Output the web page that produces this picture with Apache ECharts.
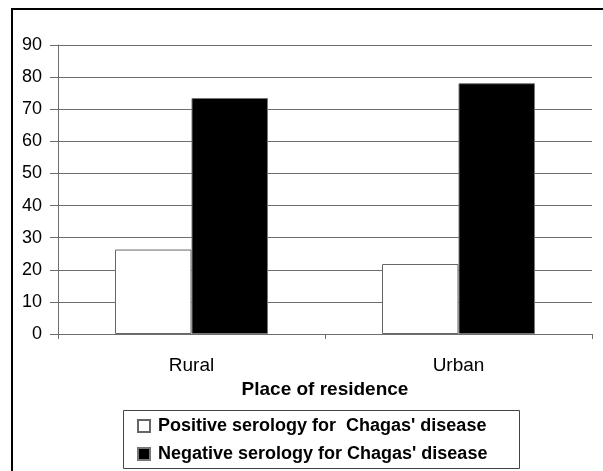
<!DOCTYPE html>
<html>
<head>
<meta charset="utf-8">
<script src="https://cdn.jsdelivr.net/npm/echarts@6/dist/echarts.min.js"></script>
<style>
  html, body { margin: 0; padding: 0; background: #fff; }
  #chart { width: 603px; height: 471px; }
</style>
</head>
<body>
<div id="chart"></div>
<script>
// Serology results by place of residence (percent)
const categories = ['Rural', 'Urban'];
const positiveValues = [26.3, 21.8];
const negativeValues = [73.5, 78.1];
const seriesNames = [
  "Positive serology for  Chagas' disease",
  "Negative serology for Chagas' disease"
];
const yTicks = { min: 0, max: 90, interval: 10 };
const axisTitle = 'Place of residence';

const chart = echarts.init(document.getElementById('chart'), null, { renderer: 'canvas' });

const labelFont = 'Liberation Sans';
const gridColor = '#6e6e6e';

chart.setOption({
  backgroundColor: '#ffffff',
  animation: false,
  grid: { left: 58, right: 11, top: 45, bottom: 137, containLabel: false },
  xAxis: {
    type: 'category',
    data: categories,
    boundaryGap: true,
    name: axisTitle,
    nameLocation: 'middle',
    nameGap: 44,
    nameTextStyle: { fontFamily: labelFont, fontSize: 19, fontWeight: 'bold', color: '#000' },
    axisLine: { lineStyle: { color: gridColor, width: 1 } },
    axisTick: { show: true, length: 5, lineStyle: { color: gridColor } },
    axisLabel: { fontFamily: labelFont, fontSize: 19, color: '#000', margin: 22 },
    splitLine: { show: false }
  },
  yAxis: {
    type: 'value',
    min: yTicks.min,
    max: yTicks.max,
    interval: yTicks.interval,
    axisLine: { show: true, lineStyle: { color: gridColor, width: 1 } },
    axisTick: { show: true, length: 8, lineStyle: { color: gridColor } },
    axisLabel: { fontFamily: labelFont, fontSize: 18, color: '#000', margin: 16 },
    splitLine: { show: true, lineStyle: { color: gridColor, width: 1 } }
  },
  legend: {
    orient: 'vertical',
    left: 137,
    top: 417,
    padding: 0,
    itemWidth: 12,
    itemHeight: 12,
    itemGap: 10,
    icon: 'rect',
    textStyle: { fontFamily: 'Liberation Sans', fontWeight: 'bold', fontSize: 18, color: '#000', padding: [0, 0, 0, 3] },
    data: seriesNames
  },
  graphic: [
    { type: 'line', shape: { x1: 11, y1: 9, x2: 603, y2: 9 }, style: { stroke: '#000', lineWidth: 2 } },
    { type: 'line', shape: { x1: 12, y1: 8, x2: 12, y2: 471 }, style: { stroke: '#000', lineWidth: 2 } },
    { type: 'rect', shape: { x: 123.5, y: 410.5, width: 396, height: 58 }, style: { fill: 'none', stroke: '#444', lineWidth: 1 }, z: -1 }
  ],
  series: [
    {
      name: seriesNames[0],
      type: 'bar',
      data: positiveValues,
      barGap: '0%',
      barCategoryGap: '42.7%',
      itemStyle: { color: '#ffffff', borderColor: '#666', borderWidth: 1 }
    },
    {
      name: seriesNames[1],
      type: 'bar',
      data: negativeValues,
      barGap: '0%',
      barCategoryGap: '42.7%',
      itemStyle: { color: '#000000', borderColor: '#777', borderWidth: 1 }
    }
  ]
});
</script>
</body>
</html>
